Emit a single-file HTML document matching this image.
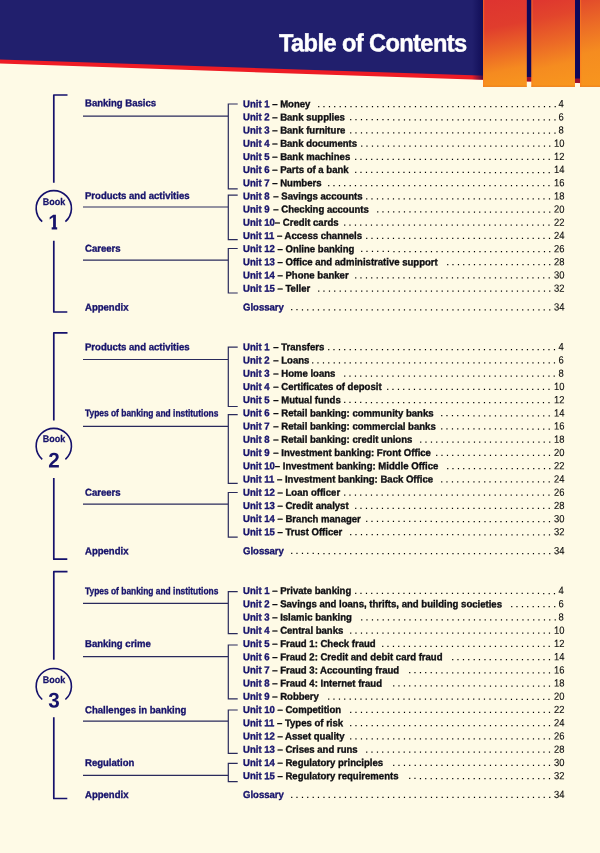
<!DOCTYPE html>
<html lang="en"><head><meta charset="utf-8"><title>Table of Contents</title>
<style>
*{margin:0;padding:0;box-sizing:border-box}
html,body{width:600px;height:853px;overflow:hidden;background:#fefae6}
body{position:relative;font-family:"Liberation Sans",sans-serif;font-size:10.0px;line-height:12px;color:#111}
#hdr{position:absolute;left:0;top:0;width:600px;height:90px}
h1{position:absolute;left:278.6px;top:29px;font-size:24.8px;line-height:28px;font-weight:bold;color:#fff;white-space:nowrap;letter-spacing:-0.62px;-webkit-text-stroke:0.45px #fff;transform-origin:0 50%;transform:translateY(0.3px) scaleX(0.952) rotate(0.03deg)}
svg.l{position:absolute;left:0;top:0;width:600px;height:853px;pointer-events:none}
.c,.r,.g,.p,.d{position:absolute;white-space:nowrap;height:12px}
.c{left:85px;font-weight:bold;color:#17136b;transform-origin:0 50%;transform:scaleX(0.955);-webkit-text-stroke:0.35px #17136b}
.r{left:242.8px;font-weight:bold;color:#0e0e12;transform-origin:0 50%;transform:scaleX(0.955);-webkit-text-stroke:0.35px #0e0e12}
.r b{color:#17136b;-webkit-text-stroke:0.35px #17136b}
.p{right:35.8px;text-align:right;color:#0c0c0c;font-size:10.4px;transform-origin:100% 50%;-webkit-text-stroke:0.12px #0c0c0c}
.d{color:#000;font-size:12.5px;letter-spacing:1.900px}
.bk{position:absolute;width:40px;text-align:center;font-weight:bold;color:#17136b;left:33.7px}
.bk span{display:block}
.bk .w{font-size:9.7px;line-height:10px;transform:scaleX(0.93);-webkit-text-stroke:0.25px #17136b}
.bk .n{font-size:21.3px;line-height:22px;margin-top:5.4px;transform:scaleX(0.97)}
</style></head>
<body>
<svg id="hdr" viewBox="0 0 600 90">
<defs>
<linearGradient id="g1" gradientUnits="userSpaceOnUse" x1="495" y1="0" x2="512" y2="87"><stop offset="0" stop-color="#de3430"/><stop offset="0.3" stop-color="#e03d2d"/><stop offset="0.55" stop-color="#ea6227"/><stop offset="0.8" stop-color="#f58a20"/><stop offset="1" stop-color="#f8951e"/></linearGradient>
<linearGradient id="g2" gradientUnits="userSpaceOnUse" x1="542" y1="0" x2="562" y2="87"><stop offset="0" stop-color="#df372f"/><stop offset="0.2" stop-color="#e2452c"/><stop offset="0.5" stop-color="#ec6a26"/><stop offset="0.75" stop-color="#f58c20"/><stop offset="1" stop-color="#f8961e"/></linearGradient>
<linearGradient id="g3" gradientUnits="userSpaceOnUse" x1="580" y1="0" x2="600" y2="87"><stop offset="0" stop-color="#e24a2b"/><stop offset="0.3" stop-color="#ec6c26"/><stop offset="0.6" stop-color="#f58c20"/><stop offset="1" stop-color="#f8961e"/></linearGradient>
<linearGradient id="sh" x1="0" y1="0" x2="1" y2="0"><stop offset="0" stop-color="#0c0850" stop-opacity="0"/><stop offset="1" stop-color="#0c0850" stop-opacity="0.75"/></linearGradient>
</defs>
<polygon points="0,0 600,0 600,83.8 0,63.6" fill="#ee1c25"/>
<polygon points="0,0 600,0 600,79.6 0,59.4" fill="#211f6d"/>
<rect x="472" y="0" width="11" height="79.6" fill="url(#sh)"/>
<rect x="526.8" y="0" width="4.7" height="77.4" fill="#0d085a"/>
<rect x="575" y="0" width="5" height="78.8" fill="#0d085a"/>
<rect x="526.8" y="77.0" width="4.7" height="4.4" fill="#98102c"/>
<rect x="575" y="78.6" width="5" height="4.3" fill="#98102c"/>
<rect x="483" y="0" width="43.8" height="86.8" fill="url(#g1)"/>
<rect x="531.4" y="0" width="43.6" height="86.8" fill="url(#g2)"/>
<rect x="580" y="0" width="20" height="86.8" fill="url(#g3)"/>
<path d="M483.6 0V86.8M532 0V86.8M580.6 0V86.8" stroke="#ff7a22" stroke-opacity="0.55" stroke-width="1.2" fill="none"/>
<path d="M483 86.3H526.8M531.4 86.3H575M580 86.3H600" stroke="#ea7410" stroke-opacity="0.8" stroke-width="1" fill="none"/>
</svg>
<h1>Table of Contents</h1>
<svg class="l" viewBox="0 0 600 853"><path d="M67.5 95.0H53.8V182.7M53.8 240.7V312.0H67.3" stroke="#15116c" stroke-width="1.7" stroke-linejoin="round" fill="none"/>
<path d="M42.22 221.62A17.65 17.65 0 1 1 65.38 221.62" stroke="#15116c" stroke-width="1.6" fill="none"/>
<path d="M83 116.2H228.3M237.7 104H228.3V188.8H237.7" stroke="#2a2a5c" stroke-width="1.2" fill="none"/>
<path d="M83 207.0H228.3M237.7 195.2H228.3V239.65H237.7" stroke="#2a2a5c" stroke-width="1.2" fill="none"/>
<path d="M83 260.2H228.3M237.7 248.5H228.3V293.0H237.7" stroke="#2a2a5c" stroke-width="1.2" fill="none"/>
<path d="M67.5 332.8H53.8V420.6M53.8 478.0V559.2H67.3" stroke="#15116c" stroke-width="1.7" stroke-linejoin="round" fill="none"/>
<path d="M42.22 459.32A17.65 17.65 0 1 1 65.38 459.32" stroke="#15116c" stroke-width="1.6" fill="none"/>
<path d="M83 359.5H228.3M237.7 347.2H228.3V406.5H237.7" stroke="#2a2a5c" stroke-width="1.2" fill="none"/>
<path d="M83 426.3H228.3M237.7 414.7H228.3V483.4H237.7" stroke="#2a2a5c" stroke-width="1.2" fill="none"/>
<path d="M83 504.2H228.3M237.7 492.5H228.3V537.1H237.7" stroke="#2a2a5c" stroke-width="1.2" fill="none"/>
<path d="M67.5 571.7H53.8V659.7M53.8 717.2V798.5H67.3" stroke="#15116c" stroke-width="1.7" stroke-linejoin="round" fill="none"/>
<path d="M42.22 699.52A17.65 17.65 0 1 1 65.38 699.52" stroke="#15116c" stroke-width="1.6" fill="none"/>
<path d="M83 603.4H228.3M237.7 591.7H228.3V633.7H237.7" stroke="#2a2a5c" stroke-width="1.2" fill="none"/>
<path d="M83 656.7H228.3M237.7 645H228.3V698.9H237.7" stroke="#2a2a5c" stroke-width="1.2" fill="none"/>
<path d="M83 721.2H228.3M237.7 710H228.3V753.3H237.7" stroke="#2a2a5c" stroke-width="1.2" fill="none"/>
<path d="M83 775.3H228.3M237.7 763.4H228.3V781.7H237.7" stroke="#2a2a5c" stroke-width="1.2" fill="none"/></svg>
<div class="bk" style="top:196px;transform:translateY(0.60px) rotate(0.03deg)"><span class="w">Book</span><span class="n" style="clip-path:polygon(0 0,100% 0,100% 14.2px,23.3px 14.2px,23.3px 100%,17.6px 100%,17.6px 14.2px,0 14.2px)">1</span></div>
<div class="c" style="top:97px;transform:translateY(0.33px) scaleX(0.955) rotate(0.03deg)">Banking Basics</div>
<div class="r" style="top:98px;transform:translateY(0.18px) scaleX(0.955) rotate(0.03deg)"><b>Unit 1</b> – Money</div>
<div class="d" style="top:97px;transform:translateY(0.23px) rotate(0.03deg);left:316.56px">.............................................</div>
<div class="p" style="top:98px;transform:translateY(0.23px) scaleX(0.905) rotate(0.03deg)">4</div>
<div class="r" style="top:111px;transform:translateY(0.36px) scaleX(0.955) rotate(0.03deg)"><b>Unit 2</b> – Bank supplies</div>
<div class="d" style="top:110px;transform:translateY(0.41px) rotate(0.03deg);left:348.81px">.......................................</div>
<div class="p" style="top:111px;transform:translateY(0.41px) scaleX(0.905) rotate(0.03deg)">6</div>
<div class="r" style="top:124px;transform:translateY(0.53px) scaleX(0.955) rotate(0.03deg)"><b>Unit 3</b> – Bank furniture</div>
<div class="d" style="top:123px;transform:translateY(0.59px) rotate(0.03deg);left:348.81px">.......................................</div>
<div class="p" style="top:124px;transform:translateY(0.59px) scaleX(0.905) rotate(0.03deg)">8</div>
<div class="r" style="top:137px;transform:translateY(0.71px) scaleX(0.955) rotate(0.03deg)"><b>Unit 4</b> – Bank documents</div>
<div class="d" style="top:136px;transform:translateY(0.76px) rotate(0.03deg);left:359.56px">....................................</div>
<div class="p" style="top:137px;transform:translateY(0.76px) scaleX(0.905) rotate(0.03deg)">10</div>
<div class="r" style="top:150px;transform:translateY(0.88px) scaleX(0.955) rotate(0.03deg)"><b>Unit 5</b> – Bank machines</div>
<div class="d" style="top:149px;transform:translateY(0.94px) rotate(0.03deg);left:354.19px">.....................................</div>
<div class="p" style="top:150px;transform:translateY(0.94px) scaleX(0.905) rotate(0.03deg)">12</div>
<div class="r" style="top:164px;transform:translateY(0.06px) scaleX(0.955) rotate(0.03deg)"><b>Unit 6</b> – Parts of a bank</div>
<div class="d" style="top:163px;transform:translateY(0.11px) rotate(0.03deg);left:354.19px">.....................................</div>
<div class="p" style="top:164px;transform:translateY(0.11px) scaleX(0.905) rotate(0.03deg)">14</div>
<div class="r" style="top:177px;transform:translateY(0.24px) scaleX(0.955) rotate(0.03deg)"><b>Unit 7</b> – Numbers</div>
<div class="d" style="top:176px;transform:translateY(0.29px) rotate(0.03deg);left:327.31px">..........................................</div>
<div class="p" style="top:177px;transform:translateY(0.29px) scaleX(0.905) rotate(0.03deg)">16</div>
<div class="c" style="top:189px;transform:translateY(0.88px) scaleX(0.955) rotate(0.03deg)">Products and activities</div>
<div class="r" style="top:190px;transform:translateY(0.41px) scaleX(0.955) rotate(0.03deg)"><b style="margin-right:1.2px">Unit 8</b> – Savings accounts</div>
<div class="d" style="top:189px;transform:translateY(0.46px) rotate(0.03deg);left:364.94px">...................................</div>
<div class="p" style="top:190px;transform:translateY(0.46px) scaleX(0.905) rotate(0.03deg)">18</div>
<div class="r" style="top:203px;transform:translateY(0.58px) scaleX(0.955) rotate(0.03deg)"><b style="margin-right:1.2px">Unit 9</b> – Checking accounts</div>
<div class="d" style="top:202px;transform:translateY(0.63px) rotate(0.03deg);left:375.69px">.................................</div>
<div class="p" style="top:203px;transform:translateY(0.63px) scaleX(0.905) rotate(0.03deg)">20</div>
<div class="r" style="top:216px;transform:translateY(0.76px) scaleX(0.955) rotate(0.03deg)"><b>Unit 10</b>– Credit cards</div>
<div class="d" style="top:215px;transform:translateY(0.81px) rotate(0.03deg);left:343.44px">.......................................</div>
<div class="p" style="top:216px;transform:translateY(0.81px) scaleX(0.905) rotate(0.03deg)">22</div>
<div class="r" style="top:229px;transform:translateY(0.94px) scaleX(0.955) rotate(0.03deg)"><b>Unit 11</b> – Access channels</div>
<div class="d" style="top:228px;transform:translateY(0.99px) rotate(0.03deg);left:364.94px">...................................</div>
<div class="p" style="top:229px;transform:translateY(0.99px) scaleX(0.905) rotate(0.03deg)">24</div>
<div class="c" style="top:242px;transform:translateY(0.76px) scaleX(0.955) rotate(0.03deg)">Careers</div>
<div class="r" style="top:243px;transform:translateY(0.11px) scaleX(0.955) rotate(0.03deg)"><b>Unit 12</b> – Online banking</div>
<div class="d" style="top:242px;transform:translateY(0.16px) rotate(0.03deg);left:359.56px">....................................</div>
<div class="p" style="top:243px;transform:translateY(0.16px) scaleX(0.905) rotate(0.03deg)">26</div>
<div class="r" style="top:256px;transform:translateY(0.29px) scaleX(0.955) rotate(0.03deg)"><b>Unit 13</b> – Office and administrative support</div>
<div class="d" style="top:255px;transform:translateY(0.34px) rotate(0.03deg);left:445.56px">....................</div>
<div class="p" style="top:256px;transform:translateY(0.34px) scaleX(0.905) rotate(0.03deg)">28</div>
<div class="r" style="top:269px;transform:translateY(0.46px) scaleX(0.955) rotate(0.03deg)"><b>Unit 14</b> – Phone banker</div>
<div class="d" style="top:268px;transform:translateY(0.51px) rotate(0.03deg);left:354.19px">.....................................</div>
<div class="p" style="top:269px;transform:translateY(0.51px) scaleX(0.905) rotate(0.03deg)">30</div>
<div class="r" style="top:282px;transform:translateY(0.64px) scaleX(0.955) rotate(0.03deg)"><b>Unit 15</b> – Teller</div>
<div class="d" style="top:281px;transform:translateY(0.69px) rotate(0.03deg);left:316.56px">............................................</div>
<div class="p" style="top:282px;transform:translateY(0.69px) scaleX(0.905) rotate(0.03deg)">32</div>
<div class="c" style="top:301px;transform:translateY(0.39px) scaleX(0.955) rotate(0.03deg)">Appendix</div>
<div class="r" style="top:301px;transform:translateY(0.39px) scaleX(0.955) rotate(0.03deg)"><b>Glossary</b></div>
<div class="d" style="top:300px;transform:translateY(0.44px) rotate(0.03deg);left:289.69px">.................................................</div>
<div class="p" style="top:301px;transform:translateY(0.44px) scaleX(0.905) rotate(0.03deg)">34</div>
<div class="bk" style="top:434px;transform:translateY(0.40px) rotate(0.03deg)"><span class="w">Book</span><span class="n">2</span></div>
<div class="c" style="top:341px;transform:translateY(0.24px) scaleX(0.955) rotate(0.03deg)">Products and activities</div>
<div class="r" style="top:341px;transform:translateY(0.24px) scaleX(0.955) rotate(0.03deg)"><b style="margin-right:1.2px">Unit 1</b> – Transfers</div>
<div class="d" style="top:340px;transform:translateY(0.29px) rotate(0.03deg);left:327.31px">...........................................</div>
<div class="p" style="top:341px;transform:translateY(0.29px) scaleX(0.905) rotate(0.03deg)">4</div>
<div class="r" style="top:354px;transform:translateY(0.46px) scaleX(0.955) rotate(0.03deg)"><b style="margin-right:1.2px">Unit 2</b> – Loans</div>
<div class="d" style="top:353px;transform:translateY(0.51px) rotate(0.03deg);left:311.19px">..............................................</div>
<div class="p" style="top:354px;transform:translateY(0.51px) scaleX(0.905) rotate(0.03deg)">6</div>
<div class="r" style="top:367px;transform:translateY(0.68px) scaleX(0.955) rotate(0.03deg)"><b style="margin-right:1.2px">Unit 3</b> – Home loans</div>
<div class="d" style="top:366px;transform:translateY(0.73px) rotate(0.03deg);left:343.44px">........................................</div>
<div class="p" style="top:367px;transform:translateY(0.73px) scaleX(0.905) rotate(0.03deg)">8</div>
<div class="r" style="top:380px;transform:translateY(0.90px) scaleX(0.955) rotate(0.03deg)"><b style="margin-right:1.2px">Unit 4</b> – Certificates of deposit</div>
<div class="d" style="top:379px;transform:translateY(0.95px) rotate(0.03deg);left:386.44px">...............................</div>
<div class="p" style="top:380px;transform:translateY(0.95px) scaleX(0.905) rotate(0.03deg)">10</div>
<div class="r" style="top:394px;transform:translateY(0.12px) scaleX(0.955) rotate(0.03deg)"><b style="margin-right:1.2px">Unit 5</b> – Mutual funds</div>
<div class="d" style="top:393px;transform:translateY(0.17px) rotate(0.03deg);left:343.44px">.......................................</div>
<div class="p" style="top:394px;transform:translateY(0.17px) scaleX(0.905) rotate(0.03deg)">12</div>
<div class="c" style="top:407px;transform:translateY(0.34px) scaleX(0.84) rotate(0.03deg)">Types of banking and institutions</div>
<div class="r" style="top:407px;transform:translateY(0.34px) scaleX(0.955) rotate(0.03deg)"><b style="margin-right:1.2px">Unit 6</b> – Retail banking: community banks</div>
<div class="d" style="top:406px;transform:translateY(0.39px) rotate(0.03deg);left:440.19px">.....................</div>
<div class="p" style="top:407px;transform:translateY(0.39px) scaleX(0.905) rotate(0.03deg)">14</div>
<div class="r" style="top:420px;transform:translateY(0.56px) scaleX(0.955) rotate(0.03deg)"><b style="margin-right:1.2px">Unit 7</b> – Retail banking: commercial banks</div>
<div class="d" style="top:419px;transform:translateY(0.61px) rotate(0.03deg);left:440.19px">.....................</div>
<div class="p" style="top:420px;transform:translateY(0.61px) scaleX(0.905) rotate(0.03deg)">16</div>
<div class="r" style="top:433px;transform:translateY(0.78px) scaleX(0.955) rotate(0.03deg)"><b style="margin-right:1.2px">Unit 8</b> – Retail banking: credit unions</div>
<div class="d" style="top:432px;transform:translateY(0.83px) rotate(0.03deg);left:418.69px">.........................</div>
<div class="p" style="top:433px;transform:translateY(0.83px) scaleX(0.905) rotate(0.03deg)">18</div>
<div class="r" style="top:446px;transform:translateY(1.00px) scaleX(0.955) rotate(0.03deg)"><b style="margin-right:1.2px">Unit 9</b> – Investment banking: Front Office</div>
<div class="d" style="top:446px;transform:translateY(0.05px) rotate(0.03deg);left:434.81px">......................</div>
<div class="p" style="top:447px;transform:translateY(0.05px) scaleX(0.905) rotate(0.03deg)">20</div>
<div class="r" style="top:460px;transform:translateY(0.22px) scaleX(0.955) rotate(0.03deg)"><b>Unit 10</b>– Investment banking: Middle Office</div>
<div class="d" style="top:459px;transform:translateY(0.27px) rotate(0.03deg);left:445.56px">....................</div>
<div class="p" style="top:460px;transform:translateY(0.27px) scaleX(0.905) rotate(0.03deg)">22</div>
<div class="r" style="top:473px;transform:translateY(0.44px) scaleX(0.955) rotate(0.03deg)"><b>Unit 11</b> – Investment banking: Back Office</div>
<div class="d" style="top:472px;transform:translateY(0.49px) rotate(0.03deg);left:440.19px">.....................</div>
<div class="p" style="top:473px;transform:translateY(0.49px) scaleX(0.905) rotate(0.03deg)">24</div>
<div class="c" style="top:486px;transform:translateY(0.66px) scaleX(0.955) rotate(0.03deg)">Careers</div>
<div class="r" style="top:486px;transform:translateY(0.66px) scaleX(0.955) rotate(0.03deg)"><b>Unit 12</b> – Loan officer</div>
<div class="d" style="top:485px;transform:translateY(0.71px) rotate(0.03deg);left:343.44px">.......................................</div>
<div class="p" style="top:486px;transform:translateY(0.71px) scaleX(0.905) rotate(0.03deg)">26</div>
<div class="r" style="top:499px;transform:translateY(0.88px) scaleX(0.955) rotate(0.03deg)"><b>Unit 13</b> – Credit analyst</div>
<div class="d" style="top:498px;transform:translateY(0.93px) rotate(0.03deg);left:354.19px">.....................................</div>
<div class="p" style="top:499px;transform:translateY(0.93px) scaleX(0.905) rotate(0.03deg)">28</div>
<div class="r" style="top:513px;transform:translateY(0.10px) scaleX(0.955) rotate(0.03deg)"><b>Unit 14</b> – Branch manager</div>
<div class="d" style="top:512px;transform:translateY(0.14px) rotate(0.03deg);left:364.94px">...................................</div>
<div class="p" style="top:513px;transform:translateY(0.14px) scaleX(0.905) rotate(0.03deg)">30</div>
<div class="r" style="top:526px;transform:translateY(0.32px) scaleX(0.955) rotate(0.03deg)"><b>Unit 15</b> – Trust Officer</div>
<div class="d" style="top:525px;transform:translateY(0.37px) rotate(0.03deg);left:348.81px">......................................</div>
<div class="p" style="top:526px;transform:translateY(0.37px) scaleX(0.905) rotate(0.03deg)">32</div>
<div class="c" style="top:545px;transform:translateY(0.13px) scaleX(0.955) rotate(0.03deg)">Appendix</div>
<div class="r" style="top:545px;transform:translateY(0.13px) scaleX(0.955) rotate(0.03deg)"><b>Glossary</b></div>
<div class="d" style="top:544px;transform:translateY(0.18px) rotate(0.03deg);left:289.69px">.................................................</div>
<div class="p" style="top:545px;transform:translateY(0.18px) scaleX(0.905) rotate(0.03deg)">34</div>
<div class="bk" style="top:674px;transform:translateY(0.60px) rotate(0.03deg)"><span class="w">Book</span><span class="n">3</span></div>
<div class="c" style="top:585px;transform:translateY(0.18px) scaleX(0.84) rotate(0.03deg)">Types of banking and institutions</div>
<div class="r" style="top:585px;transform:translateY(0.03px) scaleX(0.955) rotate(0.03deg)"><b>Unit 1</b> – Private banking</div>
<div class="d" style="top:584px;transform:translateY(0.08px) rotate(0.03deg);left:354.19px">......................................</div>
<div class="p" style="top:585px;transform:translateY(0.08px) scaleX(0.905) rotate(0.03deg)">4</div>
<div class="r" style="top:598px;transform:translateY(0.25px) scaleX(0.955) rotate(0.03deg)"><b>Unit 2</b> – Savings and loans, thrifts, and building societies</div>
<div class="d" style="top:597px;transform:translateY(0.30px) rotate(0.03deg);left:510.06px">.........</div>
<div class="p" style="top:598px;transform:translateY(0.30px) scaleX(0.905) rotate(0.03deg)">6</div>
<div class="r" style="top:611px;transform:translateY(0.48px) scaleX(0.955) rotate(0.03deg)"><b>Unit 3</b> – Islamic banking</div>
<div class="d" style="top:610px;transform:translateY(0.52px) rotate(0.03deg);left:359.56px">.....................................</div>
<div class="p" style="top:611px;transform:translateY(0.52px) scaleX(0.905) rotate(0.03deg)">8</div>
<div class="r" style="top:624px;transform:translateY(0.69px) scaleX(0.955) rotate(0.03deg)"><b>Unit 4</b> – Central banks</div>
<div class="d" style="top:623px;transform:translateY(0.74px) rotate(0.03deg);left:348.81px">......................................</div>
<div class="p" style="top:624px;transform:translateY(0.74px) scaleX(0.905) rotate(0.03deg)">10</div>
<div class="c" style="top:638px;transform:translateY(0.06px) scaleX(0.955) rotate(0.03deg)">Banking crime</div>
<div class="r" style="top:637px;transform:translateY(0.91px) scaleX(0.955) rotate(0.03deg)"><b>Unit 5</b> – Fraud 1: Check fraud</div>
<div class="d" style="top:636px;transform:translateY(0.96px) rotate(0.03deg);left:381.06px">................................</div>
<div class="p" style="top:637px;transform:translateY(0.96px) scaleX(0.905) rotate(0.03deg)">12</div>
<div class="r" style="top:651px;transform:translateY(0.13px) scaleX(0.955) rotate(0.03deg)"><b>Unit 6</b> – Fraud 2: Credit and debit card fraud</div>
<div class="d" style="top:650px;transform:translateY(0.18px) rotate(0.03deg);left:450.94px">...................</div>
<div class="p" style="top:651px;transform:translateY(0.18px) scaleX(0.905) rotate(0.03deg)">14</div>
<div class="r" style="top:664px;transform:translateY(0.36px) scaleX(0.955) rotate(0.03deg)"><b>Unit 7</b> – Fraud 3: Accounting fraud</div>
<div class="d" style="top:663px;transform:translateY(0.40px) rotate(0.03deg);left:407.94px">...........................</div>
<div class="p" style="top:664px;transform:translateY(0.40px) scaleX(0.905) rotate(0.03deg)">16</div>
<div class="r" style="top:677px;transform:translateY(0.57px) scaleX(0.955) rotate(0.03deg)"><b>Unit 8</b> – Fraud 4: Internet fraud</div>
<div class="d" style="top:676px;transform:translateY(0.62px) rotate(0.03deg);left:391.81px">..............................</div>
<div class="p" style="top:677px;transform:translateY(0.62px) scaleX(0.905) rotate(0.03deg)">18</div>
<div class="r" style="top:690px;transform:translateY(0.79px) scaleX(0.955) rotate(0.03deg)"><b>Unit 9</b> – Robbery</div>
<div class="d" style="top:689px;transform:translateY(0.84px) rotate(0.03deg);left:327.31px">..........................................</div>
<div class="p" style="top:690px;transform:translateY(0.84px) scaleX(0.905) rotate(0.03deg)">20</div>
<div class="c" style="top:704px;transform:translateY(0.16px) scaleX(0.955) rotate(0.03deg)">Challenges in banking</div>
<div class="r" style="top:704px;transform:translateY(0.01px) scaleX(0.955) rotate(0.03deg)"><b>Unit 10</b> – Competition</div>
<div class="d" style="top:703px;transform:translateY(0.06px) rotate(0.03deg);left:348.81px">......................................</div>
<div class="p" style="top:704px;transform:translateY(0.06px) scaleX(0.905) rotate(0.03deg)">22</div>
<div class="r" style="top:717px;transform:translateY(0.24px) scaleX(0.955) rotate(0.03deg)"><b>Unit 11</b> – Types of risk</div>
<div class="d" style="top:716px;transform:translateY(0.28px) rotate(0.03deg);left:348.81px">......................................</div>
<div class="p" style="top:717px;transform:translateY(0.28px) scaleX(0.905) rotate(0.03deg)">24</div>
<div class="r" style="top:730px;transform:translateY(0.45px) scaleX(0.955) rotate(0.03deg)"><b>Unit 12</b> – Asset quality</div>
<div class="d" style="top:729px;transform:translateY(0.50px) rotate(0.03deg);left:348.81px">......................................</div>
<div class="p" style="top:730px;transform:translateY(0.50px) scaleX(0.905) rotate(0.03deg)">26</div>
<div class="r" style="top:743px;transform:translateY(0.67px) scaleX(0.955) rotate(0.03deg)"><b>Unit 13</b> – Crises and runs</div>
<div class="d" style="top:742px;transform:translateY(0.72px) rotate(0.03deg);left:364.94px">...................................</div>
<div class="p" style="top:743px;transform:translateY(0.72px) scaleX(0.905) rotate(0.03deg)">28</div>
<div class="c" style="top:757px;transform:translateY(0.04px) scaleX(0.955) rotate(0.03deg)">Regulation</div>
<div class="r" style="top:756px;transform:translateY(0.89px) scaleX(0.955) rotate(0.03deg)"><b>Unit 14</b> – Regulatory principles</div>
<div class="d" style="top:755px;transform:translateY(0.94px) rotate(0.03deg);left:391.81px">..............................</div>
<div class="p" style="top:756px;transform:translateY(0.94px) scaleX(0.905) rotate(0.03deg)">30</div>
<div class="r" style="top:770px;transform:translateY(0.12px) scaleX(0.955) rotate(0.03deg)"><b>Unit 15</b> – Regulatory requirements</div>
<div class="d" style="top:769px;transform:translateY(0.16px) rotate(0.03deg);left:407.94px">...........................</div>
<div class="p" style="top:770px;transform:translateY(0.16px) scaleX(0.905) rotate(0.03deg)">32</div>
<div class="c" style="top:788px;transform:translateY(0.93px) scaleX(0.955) rotate(0.03deg)">Appendix</div>
<div class="r" style="top:788px;transform:translateY(0.93px) scaleX(0.955) rotate(0.03deg)"><b>Glossary</b></div>
<div class="d" style="top:787px;transform:translateY(0.98px) rotate(0.03deg);left:289.69px">.................................................</div>
<div class="p" style="top:788px;transform:translateY(0.98px) scaleX(0.905) rotate(0.03deg)">34</div>
</body></html>
